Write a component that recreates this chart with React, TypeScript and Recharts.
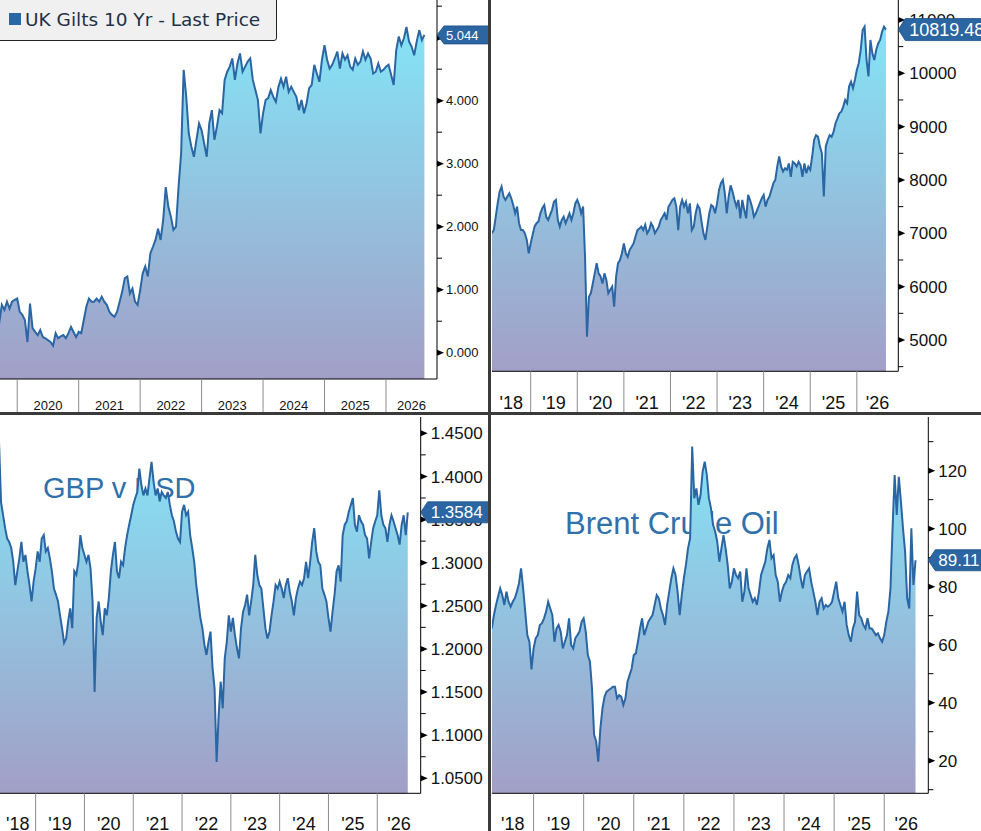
import React from 'react';
import { AreaChart, Area, XAxis, YAxis } from 'recharts';

// half-month sampling for every series
const STEP = 1 / 24;

// UK Gilts 10 Yr, from mid 2019
const GILT_START = 2019 + 12 / 24;
const GILT = [
  0.8, 0.7, 0.48, 0.42, 0.5, 0.48, 0.76, 0.68, 0.81, 0.7, 0.81, 0.84,
  0.86, 0.65, 0.6, 0.52, 0.17, 0.78, 0.39, 0.33, 0.28, 0.36, 0.25, 0.23, 0.2, 0.17, 0.11, 0.31, 0.23, 0.26, 0.28, 0.23, 0.31, 0.41, 0.33, 0.25,
  0.33, 0.31, 0.52, 0.73, 0.86, 0.81, 0.81, 0.86, 0.81, 0.89, 0.81, 0.76, 0.65, 0.6, 0.57, 0.65, 0.81, 0.97, 1.18, 1.21, 0.94, 1.02, 0.81, 0.76,
  0.99, 1.26, 1.37, 1.21, 1.58, 1.68, 1.79, 1.97, 1.79, 2.11, 2.63, 2.32, 2.16, 1.95, 2.0, 2.63, 3.16, 4.49, 4.06, 3.48, 3.27, 3.11, 3.38, 3.64,
  3.53, 3.32, 3.11, 3.64, 3.85, 3.38, 3.59, 3.85, 3.8, 4.33, 4.46, 4.54, 4.67, 4.33, 4.59, 4.75, 4.46, 4.54, 4.62, 4.67, 4.33, 4.17, 4.01, 3.48,
  3.8, 4.01, 4.04, 4.17, 4.06, 3.98, 4.22, 4.35, 4.22, 4.38, 4.14, 4.22, 4.14, 4.06, 3.85, 4.01, 3.8, 3.96, 4.2, 4.25, 4.57, 4.43, 4.3, 4.65,
  4.88, 4.65, 4.51, 4.57, 4.67, 4.78, 4.51, 4.75, 4.65, 4.72, 4.54, 4.49, 4.67, 4.57, 4.62, 4.78, 4.65, 4.75, 4.67, 4.43, 4.46, 4.59, 4.46, 4.49,
  4.54, 4.57, 4.41, 4.25, 4.8, 5.02, 4.88, 4.99, 5.17, 4.94, 4.86, 4.72, 4.94, 5.12, 4.96, 5.044,
];

// FTSE 100 style index, from March 2018
const FTSE_START = 2018 + 4 / 24;
const FTSE = [
  7000, 7060, 7310, 7560, 7780, 7875, 7690, 7625, 7690, 7750, 7656, 7530, 7375, 7500, 7190, 7060, 7060, 7000, 6875, 6625,
  6810, 6970, 7125, 7190, 7220, 7375, 7470, 7530, 7310, 7250, 7345, 7440, 7590, 7625, 7250, 7125, 7250, 7310, 7190, 7280, 7375, 7250, 7375, 7560,
  7625, 7530, 7375, 7500, 6560, 5060, 5810, 5875, 6060, 6250, 6440, 6250, 6190, 6060, 6250, 6125, 5875, 5940, 6000, 5625, 6190, 6440, 6500, 6625,
  6810, 6625, 6560, 6690, 6750, 6810, 6940, 7060, 7090, 7125, 7060, 7160, 7000, 7060, 7190, 7125, 7000, 7060, 7125, 7250, 7310, 7375, 7250, 7500,
  7560, 7625, 7656, 7500, 7060, 7500, 7625, 7500, 7590, 7375, 7560, 7060, 7125, 7375, 7530, 7470, 7220, 7000, 6875, 7125, 7375, 7530, 7500, 7375,
  7560, 7810, 7940, 8000, 7750, 7375, 7690, 7900, 7780, 7625, 7500, 7625, 7280, 7625, 7440, 7280, 7720, 7625, 7500, 7310, 7375, 7470, 7560, 7656,
  7720, 7500, 7625, 7690, 7810, 7940, 8000, 8250, 8440, 8250, 8160, 8220, 8190, 8310, 8060, 8340, 8310, 8250, 8340, 8280, 8060, 8310, 8125, 8250,
  8190, 8440, 8750, 8840, 8810, 8625, 8500, 7690, 8625, 8750, 8840, 8810, 8900, 9060, 9150, 9250, 9280, 9375, 9500, 9440, 9750, 9840, 9720, 9875,
  10060, 10190, 10440, 10810, 10875, 10250, 9940, 10625, 10375, 10250, 10440, 10560, 10625, 10780, 10875, 10819.48,
];

// GBP v USD, from March 2018
const GBP_START = 2018 + 5 / 24;
const GBP = [
  1.43, 1.44, 1.37, 1.355, 1.34, 1.328, 1.324, 1.317, 1.301, 1.274, 1.29, 1.305, 1.324, 1.301, 1.309, 1.29, 1.274, 1.255, 1.278,
  1.293, 1.313, 1.301, 1.328, 1.332, 1.313, 1.317, 1.305, 1.29, 1.27, 1.263, 1.255, 1.239, 1.224, 1.207, 1.212, 1.232, 1.247, 1.224, 1.29, 1.286, 1.301, 1.332, 1.317,
  1.309, 1.301, 1.309, 1.293, 1.255, 1.15, 1.236, 1.255, 1.232, 1.216, 1.247, 1.239, 1.259, 1.29, 1.309, 1.324, 1.29, 1.282, 1.301, 1.297, 1.317, 1.332, 1.344, 1.355,
  1.367, 1.375, 1.382, 1.409, 1.39, 1.378, 1.386, 1.378, 1.398, 1.417, 1.394, 1.378, 1.386, 1.371, 1.382, 1.378, 1.375, 1.382, 1.367, 1.355, 1.348, 1.336, 1.328, 1.324,
  1.359, 1.367, 1.355, 1.359, 1.332, 1.317, 1.301, 1.274, 1.255, 1.236, 1.224, 1.205, 1.193, 1.208, 1.22, 1.178, 1.154, 1.069, 1.123, 1.162, 1.131, 1.189, 1.208, 1.239,
  1.22, 1.236, 1.216, 1.201, 1.189, 1.224, 1.243, 1.251, 1.263, 1.239, 1.255, 1.274, 1.309, 1.286, 1.274, 1.27, 1.247, 1.224, 1.212, 1.22, 1.239, 1.255, 1.274, 1.27,
  1.278, 1.27, 1.259, 1.274, 1.282, 1.266, 1.255, 1.239, 1.259, 1.27, 1.278, 1.274, 1.282, 1.301, 1.282, 1.301, 1.324, 1.34, 1.313, 1.301, 1.297, 1.27, 1.263, 1.255,
  1.236, 1.22, 1.243, 1.263, 1.29, 1.297, 1.278, 1.332, 1.344, 1.348, 1.359, 1.367, 1.375, 1.344, 1.336, 1.355, 1.348, 1.344, 1.332, 1.328, 1.305, 1.324, 1.34, 1.348,
  1.355, 1.384, 1.355, 1.344, 1.34, 1.324, 1.344, 1.355, 1.348, 1.34, 1.332, 1.321, 1.344, 1.355, 1.332, 1.3584,
];

// Brent Crude Oil, from March 2018
const BRENT_START = 2018 + 4 / 24;
const BRENT = [
  65.6, 70.2, 73.7, 76.6, 79.4, 77.1, 73.7, 78.3, 74.8, 73.1, 74.8, 76.0, 78.3, 81.1, 86.3, 79.4, 71.4, 63.3, 61.0, 51.5,
  58.7, 62.2, 63.3, 66.8, 67.4, 69.1, 71.4, 74.8, 72.5, 70.2, 61.0, 65.6, 66.8, 64.5, 58.7, 61.0, 63.3, 69.1, 59.9, 58.7, 62.2, 63.3, 64.5, 67.9,
  69.1, 64.5, 56.4, 54.1, 44.9, 28.9, 26.6, 19.7, 31.1, 38.0, 42.1, 43.8, 44.4, 44.9, 45.5, 45.5, 41.5, 42.6, 42.1, 39.2, 41.5, 47.2, 49.5, 51.8,
  56.4, 57.0, 61.0, 65.6, 69.1, 63.3, 65.6, 67.9, 69.1, 70.2, 73.7, 77.1, 76.0, 72.5, 70.2, 66.8, 73.7, 78.3, 82.9, 86.3, 84.0, 78.3, 70.2, 77.1,
  82.9, 87.5, 93.2, 96.7, 128.3, 110.5, 113.9, 108.2, 111.6, 119.7, 123.1, 118.5, 110.5, 107.0, 101.3, 99.0, 95.5, 88.6, 93.2, 97.8, 93.2, 87.5, 79.4, 81.7,
  86.3, 84.0, 82.9, 85.2, 74.8, 78.3, 86.3, 79.4, 77.1, 74.8, 76.0, 73.7, 78.3, 84.0, 86.3, 88.6, 93.2, 96.1, 89.8, 90.9, 84.0, 81.7, 74.8, 78.3,
  80.6, 81.7, 84.0, 82.9, 87.5, 89.8, 90.9, 87.5, 82.9, 79.4, 84.0, 85.2, 86.3, 81.7, 78.3, 74.8, 70.2, 74.8, 76.0, 72.5, 73.7, 73.1, 73.7, 74.8,
  78.3, 81.7, 76.0, 73.7, 71.4, 74.8, 66.8, 63.3, 61.0, 65.6, 67.9, 78.3, 70.2, 69.1, 66.8, 65.6, 69.1, 65.6, 65.6, 64.5, 63.3, 63.9, 62.2, 61.0,
  63.3, 67.9, 71.4, 79.4, 100.1, 118.5, 104.7, 117.9, 109.3, 100.1, 92.1, 76.0, 72.5, 100.1, 80.6, 89.11,
];

const GILT_MAJOR = [0, 1, 2, 3, 4, 5];
const GILT_MINOR = [0.5, 1.5, 2.5, 3.5, 4.5, 5.5];
const FTSE_MAJOR = [5000, 6000, 7000, 8000, 9000, 10000, 11000];
const FTSE_MINOR = [4500, 5500, 6500, 7500, 8500, 9500, 10500];
const GBP_MAJOR = [1.05, 1.1, 1.15, 1.2, 1.25, 1.3, 1.35, 1.4, 1.45];
const GBP_MINOR = [1.075, 1.125, 1.175, 1.225, 1.275, 1.325, 1.375, 1.425];
const BRENT_MAJOR = [20, 40, 60, 80, 100, 120];
const BRENT_MINOR = [10, 30, 50, 70, 90, 110, 130];

const GILT_YEARS = [2020, 2021, 2022, 2023, 2024, 2025, 2026];
const SHORT_YEARS = [2018, 2019, 2020, 2021, 2022, 2023, 2024, 2025, 2026];

const FONT = "'Liberation Sans', Arial, sans-serif";
const LINE = '#2a66a3';

function toRows(start: number, values: number[]) {
  return values.map((v, i) => ({ t: start + i * STEP, v }));
}

type PanelProps = {
  id: string;
  rows: { t: number; v: number }[];
  left: number;
  top: number;
  width: number;
  height: number;
  marginTop: number;
  marginLeft: number;
  axisWidth: number;
  axisHeight: number;
  xDomain: [number, number];
  yDomain: [number, number];
  years: number[];
  yearText: (y: number) => string;
  majors: number[];
  minors: number[];
  digits: number;
  tickFont: number;
  boxFont: number;
  boxHeight: number;
  yearFont: number;
  yearBaseline: number;
  gap: number;
  title?: { text: string; x: number; y: number; size: number };
  children?: React.ReactNode;
};

function Panel(p: PanelProps) {
  const last = p.rows[p.rows.length - 1].v;
  const [d0, d1] = p.xDomain;
  const bounds = p.years.filter((y) => y > d0 && y < d1);
  const centers = p.years.map((y) => (Math.max(y, d0) + Math.min(y + 1, d1)) / 2);
  const xTicks = [...bounds, ...centers];
  const yTicks = [...p.minors, ...p.majors, last];

  const XTick = (props: any) => {
    const { x, y, payload } = props;
    const v = payload.value;
    if (Number.isInteger(v)) {
      return <line x1={x} x2={x} y1={y} y2={y + p.axisHeight} stroke="#8c8c8c" strokeWidth={1} />;
    }
    return (
      <text x={x} y={y + p.yearBaseline} textAnchor="middle" fontSize={p.yearFont} fontFamily={FONT} fill="#111">
        {p.yearText(Math.floor(v))}
      </text>
    );
  };

  const YTick = (props: any) => {
    const { x, y, payload } = props;
    const v = payload.value;
    if (v === last) {
      const h = p.boxHeight;
      return (
        <g>
          <polygon
            points={`${x},${y} ${x + 7},${y - h / 2} ${x + 120},${y - h / 2} ${x + 120},${y + h / 2} ${x + 7},${y + h / 2}`}
            fill="#2b65a2"
            stroke="#1d4f85"
            strokeWidth={0.8}
          />
          <text x={x + p.gap} y={y + p.boxFont * 0.36} fontSize={p.boxFont} fontFamily={FONT} fill="#fff">
            {v.toFixed(p.digits === 0 ? 2 : p.digits === 3 ? 3 : 4)}
          </text>
        </g>
      );
    }
    if (p.majors.includes(v)) {
      return (
        <g>
          <polygon points={`${x},${y - 3} ${x + 7},${y} ${x},${y + 3}`} fill="#000" />
          <text x={x + p.gap} y={y + p.tickFont * 0.36} fontSize={p.tickFont} fontFamily={FONT} fill="#111">
            {v.toFixed(p.digits)}
          </text>
        </g>
      );
    }
    return <line x1={x} x2={x + 5} y1={y} y2={y} stroke="#000" strokeWidth={1} />;
  };

  return (
    <div style={{ position: 'absolute', left: p.left, top: p.top, width: p.width, height: p.height, overflow: 'hidden' }}>
      {p.title && (
        <svg width={p.width} height={p.height} style={{ position: 'absolute', left: 0, top: 0 }}>
          <text x={p.title.x} y={p.title.y} fontSize={p.title.size} fontFamily={FONT} fill="#3070ab">
            {p.title.text}
          </text>
        </svg>
      )}
      <div style={{ position: 'absolute', left: 0, top: 0 }}>
        <AreaChart
          width={p.width}
          height={p.height}
          data={p.rows}
          margin={{ top: p.marginTop, right: 0, bottom: 0, left: p.marginLeft }}
        >
          <defs>
            <linearGradient id={p.id} x1="0" y1="0" x2="0" y2="1">
              <stop offset="0" stopColor="#84e4f6" />
              <stop offset="1" stopColor="#a29fc7" />
            </linearGradient>
          </defs>
          <XAxis
            dataKey="t"
            type="number"
            domain={p.xDomain}
            allowDataOverflow
            ticks={xTicks}
            interval={0}
            tick={XTick}
            tickLine={false}
            tickSize={0}
            tickMargin={0}
            height={p.axisHeight}
            axisLine={{ stroke: '#000', strokeWidth: 1 }}
          />
          <YAxis
            orientation="right"
            type="number"
            domain={p.yDomain}
            allowDataOverflow
            ticks={yTicks}
            interval={0}
            tick={YTick}
            tickLine={false}
            tickSize={0}
            tickMargin={0}
            width={p.axisWidth}
            axisLine={{ stroke: '#000', strokeWidth: 1 }}
          />
          <Area
            type="linear"
            dataKey="v"
            stroke={LINE}
            strokeWidth={2}
            fill={`url(#${p.id})`}
            fillOpacity={1}
            baseValue="dataMin"
            dot={false}
            activeDot={false}
            isAnimationActive={false}
          />
        </AreaChart>
      </div>
      {p.children}
    </div>
  );
}

const shortYear = (y: number) => `'${String(y).slice(2)}`;

export default function App() {
  return (
    <div style={{ position: 'fixed', left: 0, top: 0, width: 981, height: 831, background: '#fff', overflow: 'hidden' }}>
      <Panel
        id="gilt"
        rows={toRows(GILT_START, GILT)}
        left={0}
        top={0}
        width={488}
        height={412}
        marginTop={0}
        marginLeft={0}
        axisWidth={51}
        axisHeight={33}
        xDomain={[2019.72, 2026.83]}
        yDomain={[-0.417, 5.598]}
        years={GILT_YEARS}
        yearText={(y) => String(y)}
        majors={GILT_MAJOR}
        minors={GILT_MINOR}
        digits={3}
        tickFont={13}
        boxFont={13}
        boxHeight={18}
        yearFont={13}
        yearBaseline={31}
        gap={9}
      >
        <div
          style={{
            position: 'absolute',
            left: -1,
            top: -1,
            width: 278,
            height: 42,
            background: '#f0f0f0',
            border: '1px solid #222',
            borderBottomRightRadius: 3,
            boxSizing: 'border-box',
          }}
        >
          <div style={{ position: 'absolute', left: 9, top: 13, width: 12, height: 12, background: LINE }} />
          <div
            style={{
              position: 'absolute',
              left: 25,
              top: 8,
              fontFamily: "'DejaVu Sans', Verdana, sans-serif",
              fontSize: 18.5,
              lineHeight: '24px',
              color: '#1f3048',
              whiteSpace: 'nowrap',
            }}
          >
            UK Gilts 10 Yr - Last Price
          </div>
        </div>
      </Panel>

      <Panel
        id="ftse"
        rows={toRows(FTSE_START, FTSE)}
        left={491}
        top={0}
        width={490}
        height={412}
        marginTop={0}
        marginLeft={1}
        axisWidth={82.7}
        axisHeight={40.7}
        xDomain={[2018.17, 2026.89]}
        yDomain={[4413, 11374]}
        years={SHORT_YEARS}
        yearText={shortYear}
        majors={FTSE_MAJOR}
        minors={FTSE_MINOR}
        digits={0}
        tickFont={17}
        boxFont={18}
        boxHeight={22}
        yearFont={18}
        yearBaseline={37.7}
        gap={11}
      />

      <Panel
        id="gbp"
        rows={toRows(GBP_START, GBP)}
        left={0}
        top={415}
        width={488}
        height={416}
        marginTop={2}
        marginLeft={0}
        axisWidth={67.3}
        axisHeight={37.7}
        xDomain={[2018.27, 2026.89]}
        yDomain={[1.0326, 1.4689]}
        years={SHORT_YEARS}
        yearText={shortYear}
        majors={GBP_MAJOR}
        minors={GBP_MINOR}
        digits={4}
        tickFont={17}
        boxFont={17}
        boxHeight={21}
        yearFont={18}
        yearBaseline={36.5}
        gap={10}
        title={{ text: 'GBP v USD', x: 43, y: 82.7, size: 29 }}
      />

      <Panel
        id="brent"
        rows={toRows(BRENT_START, BRENT)}
        left={491}
        top={415}
        width={490}
        height={416}
        marginTop={2}
        marginLeft={1}
        axisWidth={52.7}
        axisHeight={37.7}
        xDomain={[2018.17, 2026.88]}
        yDomain={[8.76, 138.5]}
        years={SHORT_YEARS}
        yearText={shortYear}
        majors={BRENT_MAJOR}
        minors={BRENT_MINOR}
        digits={0}
        tickFont={17}
        boxFont={17}
        boxHeight={21}
        yearFont={18}
        yearBaseline={36.5}
        gap={10}
        title={{ text: 'Brent Crude Oil', x: 74, y: 119, size: 31 }}
      />

      <div style={{ position: 'absolute', left: 488, top: 0, width: 3, height: 831, background: '#3a3a3a' }} />
      <div style={{ position: 'absolute', left: 0, top: 412, width: 981, height: 3, background: '#3a3a3a' }} />
    </div>
  );
}
